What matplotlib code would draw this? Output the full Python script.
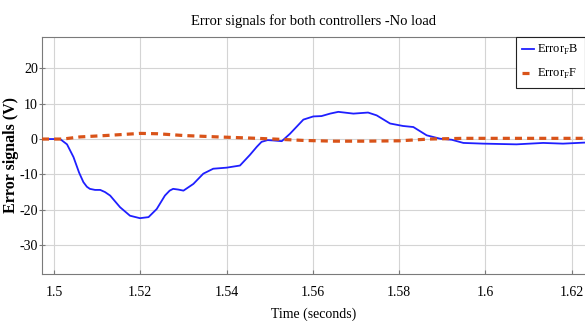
import matplotlib
matplotlib.use('Agg')
import matplotlib.pyplot as plt

# Error signals (time in s, error in V)
time_b = [1.4972, 1.5000, 1.5014, 1.5030, 1.5045, 1.5058, 1.5068, 1.5076, 1.5083, 1.5095,
          1.5107, 1.5118, 1.5130, 1.5153, 1.5176, 1.5199, 1.5219, 1.5238, 1.5257, 1.5268,
          1.5276, 1.5288, 1.5300, 1.5323, 1.5346, 1.5369, 1.5400, 1.5431, 1.5454, 1.5470,
          1.5481, 1.5495, 1.5508, 1.5528, 1.5547, 1.5578, 1.5601, 1.5620, 1.5640, 1.5659,
          1.5694, 1.5728, 1.5748, 1.5779, 1.5809, 1.5833, 1.5864, 1.5895, 1.5922, 1.5949,
          1.5995, 1.6072, 1.6134, 1.6180, 1.6231]
error_b = [0.0, 0.0, 0.0, -1.5, -5.1, -9.5, -12.2, -13.5, -14.1, -14.4,
           -14.4, -15.0, -16.0, -19.3, -21.7, -22.4, -22.1, -19.8, -16.0, -14.6,
           -14.1, -14.3, -14.6, -12.7, -9.8, -8.4, -8.1, -7.5, -4.5, -2.2,
           -0.8, -0.3, -0.4, -0.6, 1.5, 5.5, 6.4, 6.5, 7.2, 7.7,
           7.2, 7.5, 6.7, 4.4, 3.7, 3.4, 1.05, 0.1, -0.2, -1.1,
           -1.3, -1.5, -1.1, -1.3, -1.0]

time_f = [1.4972, 1.5020, 1.5060, 1.5120, 1.5200, 1.5240, 1.5300, 1.5380, 1.5450,
          1.5510, 1.5580, 1.5650, 1.5720, 1.5800, 1.5870, 1.5950, 1.6100, 1.6231]
error_f = [0.0, 0.0, 0.6, 1.0, 1.6, 1.5, 1.0, 0.6, 0.3,
           0.0, -0.4, -0.6, -0.6, -0.5, 0.0, 0.2, 0.2, 0.2]

labels = [r'Error$_\mathrm{F}$B', r'Error$_\mathrm{F}$F']
x_ticks = [1.5, 1.52, 1.54, 1.56, 1.58, 1.6, 1.62]
x_tick_labels = ['1.5', '1.52', '1.54', '1.56', '1.58', '1.6', '1.62']
y_ticks = [-30, -20, -10, 0, 10, 20]

plt.rcParams['font.family'] = ['Liberation Serif', 'DejaVu Serif']
plt.rcParams['mathtext.fontset'] = 'custom'
plt.rcParams['mathtext.rm'] = 'Liberation Serif'
plt.rcParams['axes.unicode_minus'] = False

fig = plt.figure(figsize=(5.85, 3.21), dpi=100)
ax = fig.add_axes([42 / 585, 1 - 274 / 321, 1 - 42 / 585, (274 - 37.3) / 321])

ax.plot(time_b, error_b, color='#1f1fff', lw=1.3, label=labels[0], zorder=3)
ax.plot(time_f, error_f, color='#D95319', lw=2.3, linestyle=(0, (2.2, 1.6)),
        label=labels[1], zorder=4)

ax.set_xlim(1.4972, 1.6231)
ax.set_ylim(-38.2, 28.8)
ax.set_xticks(x_ticks)
ax.set_xticklabels(x_tick_labels)
ax.set_yticks(y_ticks)

ax.grid(True, color='#d4d4d4', lw=0.8, zorder=0)
for side in ['left', 'bottom', 'top']:
    ax.spines[side].set_color('#7a7a7a')
ax.spines['right'].set_visible(False)
ax.tick_params(axis='x', direction='in', length=3, pad=9, labelsize=10, color='#7a7a7a')
ax.tick_params(axis='y', direction='inout', length=4, pad=1, labelsize=10, color='#7a7a7a')

ax.set_title('Error signals for both controllers -No load', fontsize=10.5, pad=9)
ax.set_xlabel('Time (seconds)', fontsize=10, labelpad=6)
ax.set_ylabel('Error signals (V)', fontsize=11.5, fontweight='bold')
ax.yaxis.set_label_coords(19 / 585, 0.5, transform=fig.transFigure)
ax.yaxis.label.set_y(1 - 155 / 321)

leg = ax.legend(loc='upper left', bbox_to_anchor=(516 / 585, 1 - 37 / 321),
                bbox_transform=fig.transFigure, fontsize=9, handlelength=0.9,
                handletextpad=0.3, borderpad=0.5, labelspacing=0.8,
                fancybox=False, framealpha=1, borderaxespad=0)
leg.get_frame().set_edgecolor('#222222')
leg.get_frame().set_linewidth(0.8)

fig.savefig('out.png', dpi=100)
